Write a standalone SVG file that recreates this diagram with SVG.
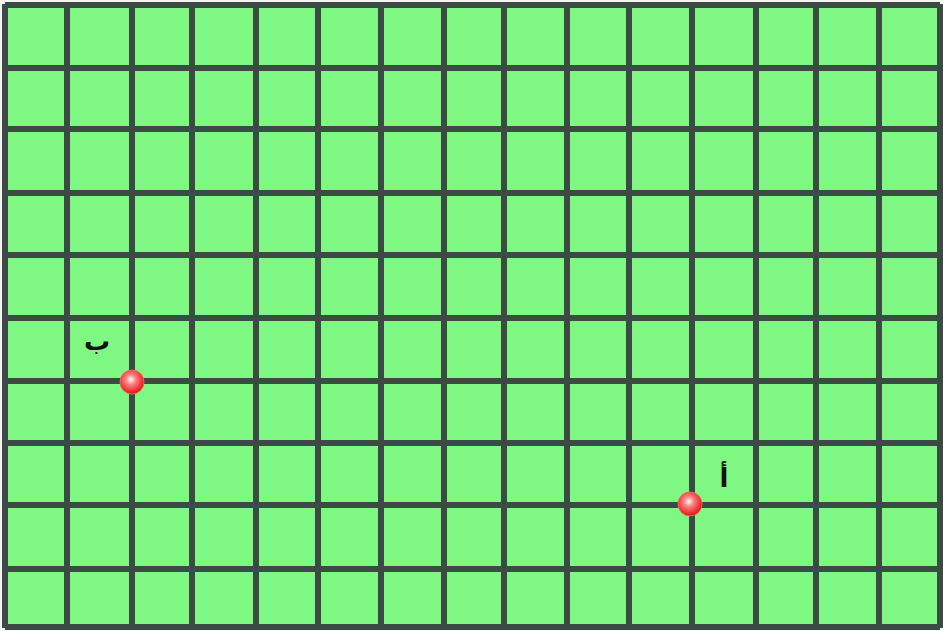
<svg xmlns="http://www.w3.org/2000/svg" width="943" height="631" viewBox="0 0 943 631">
<defs>
<radialGradient id="dot" cx="0.45" cy="0.4" r="0.6">
<stop offset="0" stop-color="#ffffff"/>
<stop offset="0.35" stop-color="#ff8080"/>
<stop offset="1" stop-color="#e01010"/>
</radialGradient>
</defs>
<style>
.g{stroke:#3b4a42;stroke-width:6;fill:none}
.lbl{font-family:"DejaVu Sans",sans-serif;font-size:26px;font-weight:bold;fill:#111}
</style>
<rect x="0" y="0" width="943" height="631" fill="#f4f4f4"/>
<rect x="5" y="4" width="935" height="624" fill="#7ef882"/>
<g id="grid" class="g">
<path d="M5 4V628M67 4V628M132 4V628M192 4V628M256 4V628M318 4V628M381 4V628M444 4V628M504 4V628M567 4V628M629 4V628M692 4V628M756 4V628M816 4V628M879 4V628M940 4V628"/>
<path d="M5 5H940M5 68H940M5 129H940M5 193H940M5 255H940M5 318H940M5 381H940M5 443H940M5 505H940M5 569H940M5 627H940"/>
</g>
<g id="pointB">
<circle cx="132" cy="382" r="12" fill="url(#dot)" stroke="#ff6060" stroke-width="1"/>
<text class="lbl" x="97" y="350" text-anchor="middle">ب</text>
</g>
<g id="pointA">
<circle cx="690" cy="504" r="12" fill="url(#dot)" stroke="#ff6060" stroke-width="1"/>
<text class="lbl" x="724" y="487" text-anchor="middle">أ</text>
</g>
</svg>
